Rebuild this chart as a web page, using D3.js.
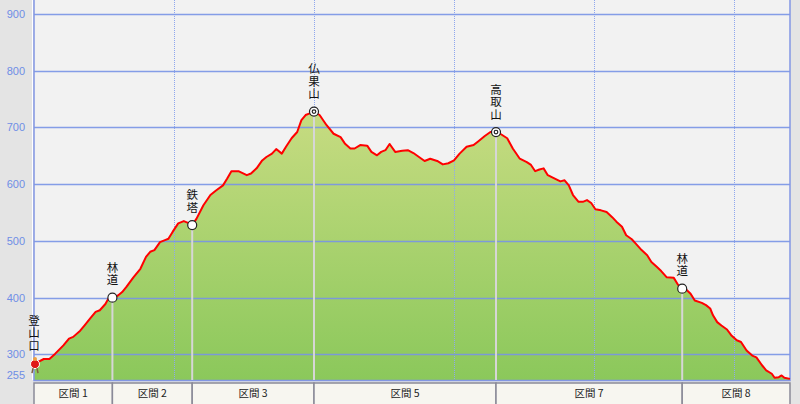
<!DOCTYPE html>
<html>
<head>
<meta charset="utf-8">
<script src="https://cdn.jsdelivr.net/npm/d3@7"></script>
<style>
  html, body { margin: 0; padding: 0; background: #e4e4e4; }
  svg { display: block; }
</style>
</head>
<body>
<div id="chart"></div>
<script>
// distance (km) and elevation (m)
const distance = [0.00, 0.07, 0.11, 0.15, 0.21, 0.25, 0.28, 0.33, 0.36, 0.40, 0.44, 0.47, 0.51, 0.53, 0.56,
  0.60, 0.63, 0.66, 0.71, 0.76, 0.80, 0.83, 0.86, 0.90, 0.94, 0.96, 0.99, 1.03, 1.07, 1.10, 1.13,
  1.16, 1.21, 1.26, 1.30, 1.35, 1.38, 1.41, 1.46, 1.52, 1.55, 1.59, 1.63, 1.66, 1.70, 1.73, 1.77,
  1.80, 1.84, 1.88, 1.91, 1.94, 1.97, 2.00, 2.04, 2.09, 2.14, 2.19, 2.22, 2.26, 2.29, 2.33, 2.38,
  2.41, 2.45, 2.48, 2.51, 2.54, 2.58, 2.63, 2.67, 2.71, 2.75, 2.79, 2.83, 2.88, 2.92, 2.96, 3.00,
  3.04, 3.09, 3.14, 3.17, 3.22, 3.26, 3.30, 3.33, 3.38, 3.42, 3.47, 3.52, 3.55, 3.58, 3.61, 3.64,
  3.67, 3.72, 3.76, 3.79, 3.82, 3.85, 3.89, 3.92, 3.95, 3.98, 4.01, 4.05, 4.09, 4.13, 4.16, 4.20,
  4.23, 4.27, 4.30, 4.34, 4.38, 4.41, 4.45, 4.48, 4.52, 4.57, 4.60, 4.63, 4.66, 4.69, 4.72, 4.77,
  4.80, 4.83, 4.85, 4.88, 4.91, 4.95, 4.98, 5.02, 5.05, 5.09, 5.13, 5.16, 5.20, 5.23, 5.27, 5.29,
  5.32, 5.34, 5.36, 5.40];
const elevation = [283, 292, 292, 301, 316, 328, 331, 342, 351, 363, 375, 378, 389, 398, 400,
  404, 410, 419, 436, 451, 472, 481, 484, 498, 502, 504, 516, 531, 535, 532, 528,
  539, 563, 581, 589, 598, 610, 623, 623, 616, 619, 628, 642, 648, 654, 662, 654,
  666, 681, 692, 713, 722, 725, 728, 722, 704, 689, 683, 672, 663, 663, 669, 668,
  657, 651, 657, 660, 671, 657, 659, 660, 655, 648, 641, 645, 641, 635, 637, 642,
  654, 666, 669, 675, 685, 692, 692, 689, 681, 663, 645, 639, 634, 623, 626, 628,
  616, 610, 605, 607, 598, 581, 569, 569, 572, 567, 556, 554, 551, 542, 534, 525,
  510, 503, 495, 484, 475, 463, 454, 447, 436, 435, 423, 416, 414, 407, 395, 391,
  387, 381, 369, 357, 351, 344, 334, 325, 322, 307, 298, 295, 281, 272, 266, 259,
  260, 263, 259, 257];

// waypoints
const pointNames = ["登山口", "林道", "鉄塔", "仏果山", "高取山", "林道"];
const pointKm = [0.00, 0.56, 1.13, 2.00, 3.30, 4.63];
const pointElev = [283, 400, 528, 728, 692, 416];
const pointType = ["start", "pass", "pass", "peak", "peak", "pass"];

// sections along the bottom
const sectionLabels = ["区間 1", "区間 2", "区間 3", "区間 5", "区間 7", "区間 8"];
const sectionBounds = [0.00, 0.56, 1.13, 2.00, 3.30, 4.63, 5.40];

const yTicks = [255, 300, 400, 500, 600, 700, 800, 900];
const xGrid = [1, 2, 3, 4, 5];

const width = 800, height = 404;
const plotLeft = 34, plotRight = 790, plotTop = 0, plotBottom = 380;

const svg = d3.select("#chart").append("svg")
  .attr("width", width)
  .attr("height", height);

const x = d3.scaleLinear().domain([0, 5.4]).range([plotLeft, plotRight]);
const y = d3.scaleLinear().domain([255, 924.7]).range([plotBottom, plotTop]);

const data = distance.map((d, i) => ({ km: d, m: elevation[i] }));

// panels
svg.append("rect").attr("width", width).attr("height", height).attr("fill", "#e4e4e4");
svg.append("line").attr("x1", 32.5).attr("x2", 32.5).attr("y1", 0).attr("y2", plotBottom)
  .attr("stroke", "#ffffff");
svg.append("rect")
  .attr("x", plotLeft).attr("y", plotTop)
  .attr("width", plotRight - plotLeft).attr("height", plotBottom - plotTop)
  .attr("fill", "#f2f2f2");

const defs = svg.append("defs");
const grad = defs.append("linearGradient")
  .attr("id", "fillGrad")
  .attr("gradientUnits", "userSpaceOnUse")
  .attr("x1", 0).attr("x2", 0)
  .attr("y1", y(760)).attr("y2", plotBottom);
grad.append("stop").attr("offset", "0%").attr("stop-color", "#cbdd84");
grad.append("stop").attr("offset", "100%").attr("stop-color", "#8bc85b");

// area under the profile
const area = d3.area()
  .x(d => x(d.km))
  .y0(plotBottom)
  .y1(d => y(d.m));

svg.append("path")
  .datum(data)
  .attr("d", area)
  .attr("fill", "url(#fillGrad)");

// grid
svg.append("g")
  .selectAll("line")
  .data(xGrid)
  .join("line")
  .attr("x1", d => x(d) + 0.5).attr("x2", d => x(d) + 0.5)
  .attr("y1", plotTop).attr("y2", plotBottom)
  .attr("stroke", "#8ea6ee")
  .attr("stroke-width", 1)
  .attr("stroke-dasharray", "1,1");

svg.append("g")
  .selectAll("line")
  .data(yTicks.filter(d => d !== 255))
  .join("line")
  .attr("x1", plotLeft).attr("x2", plotRight)
  .attr("y1", d => Math.round(y(d)) + 0.5).attr("y2", d => Math.round(y(d)) + 0.5)
  .attr("stroke", "#7893e6")
  .attr("stroke-opacity", 0.9)
  .attr("stroke-width", 1.5);

// frame
svg.append("rect")
  .attr("x", plotLeft).attr("y", plotTop - 1)
  .attr("width", plotRight - plotLeft).attr("height", plotBottom - plotTop + 1.5)
  .attr("fill", "none")
  .attr("stroke", "#8296e4")
  .attr("stroke-width", 1.5);

// y tick labels
svg.append("g")
  .selectAll("text")
  .data(yTicks)
  .join("text")
  .attr("x", 25)
  .attr("y", d => d === 255 ? y(d) - 1 : y(d) + 4)
  .attr("text-anchor", "end")
  .attr("font-family", "Liberation Sans, Arial, sans-serif")
  .attr("font-size", "11px")
  .attr("fill", "#6f8ee6")
  .text(d => d);

// waypoint drop lines
const points = pointNames.map((n, i) => ({ name: n, km: pointKm[i], m: pointElev[i], type: pointType[i] }));

svg.append("g")
  .selectAll("line")
  .data(points.filter(p => p.type !== "start"))
  .join("line")
  .attr("x1", d => x(d.km)).attr("x2", d => x(d.km))
  .attr("y1", d => y(d.m)).attr("y2", plotBottom)
  .attr("stroke", "#d6d6d6")
  .attr("stroke-width", 2);

// profile line
const line = d3.line()
  .x(d => x(d.km))
  .y(d => y(d.m));

svg.append("path")
  .datum(data)
  .attr("d", line)
  .attr("fill", "none")
  .attr("stroke", "#ff0000")
  .attr("stroke-width", 2)
  .attr("stroke-linejoin", "round");

// markers
const mk = svg.append("g")
  .selectAll("g")
  .data(points)
  .join("g")
  .attr("transform", d => `translate(${x(d.km) + (d.type === "start" ? 1 : 0)},${y(d.m)})`);

mk.filter(d => d.type !== "start").append("circle")
  .attr("r", 4.5)
  .attr("fill", "#ffffff")
  .attr("stroke", "#222")
  .attr("stroke-width", 1.2);

mk.filter(d => d.type === "peak").append("circle")
  .attr("r", 1.8)
  .attr("fill", "none")
  .attr("stroke", "#222")
  .attr("stroke-width", 1.2);

// little hiker at the trailhead
const hiker = mk.filter(d => d.type === "start");
hiker.append("circle").attr("cx", 0).attr("cy", 0).attr("r", 4.5)
  .attr("fill", "#e01818").attr("stroke", "#ffffff").attr("stroke-width", 1);
hiker.append("circle").attr("cx", 0).attr("cy", -5).attr("r", 2)
  .attr("fill", "#f0a040");
hiker.append("path").attr("d", "M-2,4 L-3,9 M2,4 L3,9")
  .attr("stroke", "#806040").attr("stroke-width", 1.5);

// vertical labels, one text each, written top to bottom
svg.append("g")
  .selectAll("text")
  .data(points)
  .join("text")
  .attr("x", d => x(d.km))
  .attr("y", d => y(d.m) - (d.type === "start" ? 12 : 11))
  .attr("writing-mode", "vertical-rl")
  .attr("text-anchor", "end")
  .attr("letter-spacing", "1px")
  .attr("font-family", "Noto Sans CJK JP, sans-serif")
  .attr("font-size", "11.5px")
  .attr("fill", "#111")
  .text(d => d.name);

// section boxes
const sections = sectionLabels.map((s, i) => ({ label: s, a: sectionBounds[i], b: sectionBounds[i + 1] }));

const sec = svg.append("g")
  .selectAll("g")
  .data(sections)
  .join("g");

sec.append("rect")
  .attr("x", d => x(d.a))
  .attr("y", 383)
  .attr("width", d => x(d.b) - x(d.a))
  .attr("height", 24)
  .attr("fill", "#f7f6f0")
  .attr("stroke", "#8a8a98")
  .attr("stroke-width", 1.5);

sec.append("text")
  .attr("x", d => (x(d.a) + x(d.b)) / 2)
  .attr("y", 397)
  .attr("text-anchor", "middle")
  .attr("font-family", "Noto Sans CJK JP, sans-serif")
  .attr("font-size", "10.5px")
  .attr("fill", "#222")
  .text(d => d.label);
</script>
</body>
</html>
